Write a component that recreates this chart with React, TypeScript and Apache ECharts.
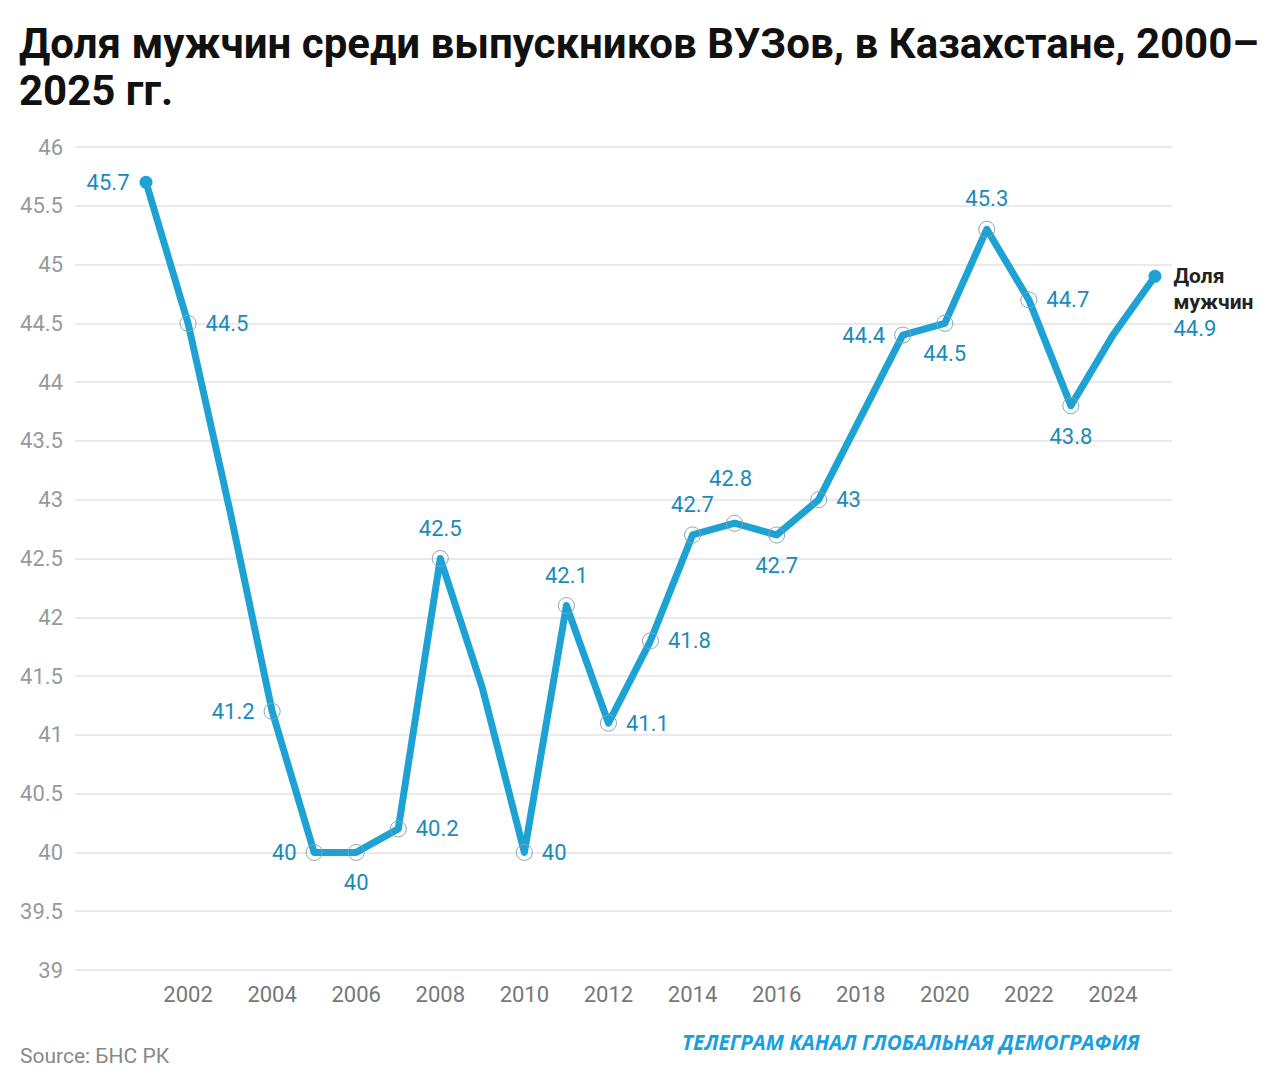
import React, { useEffect, useRef } from "react";
import * as echarts from "echarts";

const years = [2001, 2002, 2003, 2004, 2005, 2006, 2007, 2008, 2009, 2010, 2011, 2012, 2013, 2014, 2015, 2016, 2017, 2018, 2019, 2020, 2021, 2022, 2023, 2024, 2025];
const values = [45.7, 44.5, 42.9, 41.2, 40, 40, 40.2, 42.5, 41.4, 40, 42.1, 41.1, 41.8, 42.7, 42.8, 42.7, 43, 43.7, 44.4, 44.5, 45.3, 44.7, 43.8, 44.4, 44.9];
// where each value label sits ("" = no marker/label)
const labelPlacement = ["left", "right", "", "left", "left", "bottom", "right", "top", "", "right", "top", "right", "right", "top", "top", "bottom", "right", "", "left", "bottom", "top", "right", "bottom", "", "end"];
const xTickLabels = [2002, 2004, 2006, 2008, 2010, 2012, 2014, 2016, 2018, 2020, 2022, 2024];
const yMin = 39;
const yMax = 46;
const yStep = 0.5;
const seriesName = "Доля мужчин";
const titleText = "Доля мужчин среди выпускников ВУЗов, в Казахстане, 2000–\n2025 гг.";
const sourceText = "Source: БНС РК";
const brandText = "ТЕЛЕГРАМ КАНАЛ ГЛОБАЛЬНАЯ ДЕМОГРАФИЯ";

const LINE = "#1ea2d3";
const LABEL = "#1a8bb8";
const FONT = "Roboto, 'Noto Sans', sans-serif";

export default function App() {
  const ref = useRef<HTMLDivElement>(null);
  useEffect(() => {
    if (!ref.current) return;
    const chart = echarts.init(ref.current, undefined, { renderer: "svg" });
    const last = years.length - 1;
    const data = years.map((y, i) => {
      const p = labelPlacement[i];
      if (p === "") {
        return { value: [y, values[i]], symbol: "none", label: { show: false } };
      }
      if (i === 0) {
        return {
          value: [y, values[i]],
          symbol: "circle",
          symbolSize: 13,
          itemStyle: { color: LINE, borderWidth: 0 },
          label: { show: true, position: "left", distance: 10 },
        };
      }
      if (p === "end") {
        return {
          value: [y, values[i]],
          symbol: "circle",
          symbolSize: 13,
          itemStyle: { color: LINE, borderWidth: 0 },
          label: {
            show: true,
            position: "right",
            distance: 12,
            verticalAlign: "top",
            align: "left",
            offset: [0, -13],
            formatter: () => "{n|Доля}\n{n|мужчин}\n{v|" + values[last] + "}",
            rich: {
              n: { fontFamily: FONT, fontSize: 21, fontWeight: "bold", color: "#222", lineHeight: 26 },
              v: { fontFamily: FONT, fontSize: 22, color: LABEL, lineHeight: 26 },
            },
          },
        };
      }
      const item: any = {
        value: [y, values[i]],
        label: { show: true, position: p, distance: p === "top" || p === "bottom" ? 11 : 9 },
      };
      if (y === 2015) item.label.offset = [-4, -14];
      return item;
    });

    chart.setOption({
      animation: false,
      backgroundColor: "#fff",
      grid: { left: 75, right: 108, top: 147, bottom: 120, containLabel: false },
      xAxis: {
        type: "value",
        min: 1999.311,
        max: 2025.405,
        axisLine: { show: false },
        axisTick: { show: false },
        splitLine: { show: false },
        axisLabel: {
          customValues: xTickLabels,
          color: "#777",
          fontFamily: FONT,
          fontSize: 22,
          margin: 13,
          formatter: (v: number) => String(Math.round(v)),
        },
      },
      yAxis: {
        type: "value",
        min: yMin,
        max: yMax,
        interval: yStep,
        axisLine: { show: false },
        axisTick: { show: false },
        splitLine: { lineStyle: { color: "#e3e3e3", width: 1.5 } },
        axisLabel: {
          color: "#999",
          fontFamily: FONT,
          fontSize: 22,
          margin: 12,
          formatter: (v: number) => String(v),
        },
      },
      series: [
        {
          name: seriesName,
          type: "line",
          data,
          symbol: "circle",
          symbolSize: 16,
          showAllSymbol: true,
          lineStyle: { color: LINE, width: 7, join: "round", cap: "round" },
          itemStyle: { color: "rgba(255,255,255,0)", borderColor: "#7ea6b8", borderWidth: 1 },
          label: {
            show: true,
            color: LABEL,
            fontFamily: FONT,
            fontSize: 22,
            formatter: (p: any) => String(p.value[1]),
          },
          z: 3,
        },
      ],
      graphic: [
        {
          type: "text",
          left: 19,
          top: 20,
          style: {
            text: titleText,
            fontFamily: FONT,
            fontSize: 42,
            fontWeight: "bold",
            fill: "#111",
            lineHeight: 47,
          },
        },
        {
          type: "text",
          left: 20,
          top: 1045,
          style: { text: sourceText, fontFamily: FONT, fontSize: 21, fill: "#888" },
        },
        {
          type: "text",
          left: 682,
          top: 1031,
          style: {
            text: brandText,
            fontFamily: "'Open Sans', sans-serif",
            fontSize: 20.7,
            fontWeight: "bold",
            fontStyle: "italic",
            fill: "#1a9fe0",
          },
        },
      ],
    });
    return () => chart.dispose();
  }, []);
  return <div ref={ref} style={{ position: "fixed", left: 0, top: 0, width: 1280, height: 1090 }} />;
}
